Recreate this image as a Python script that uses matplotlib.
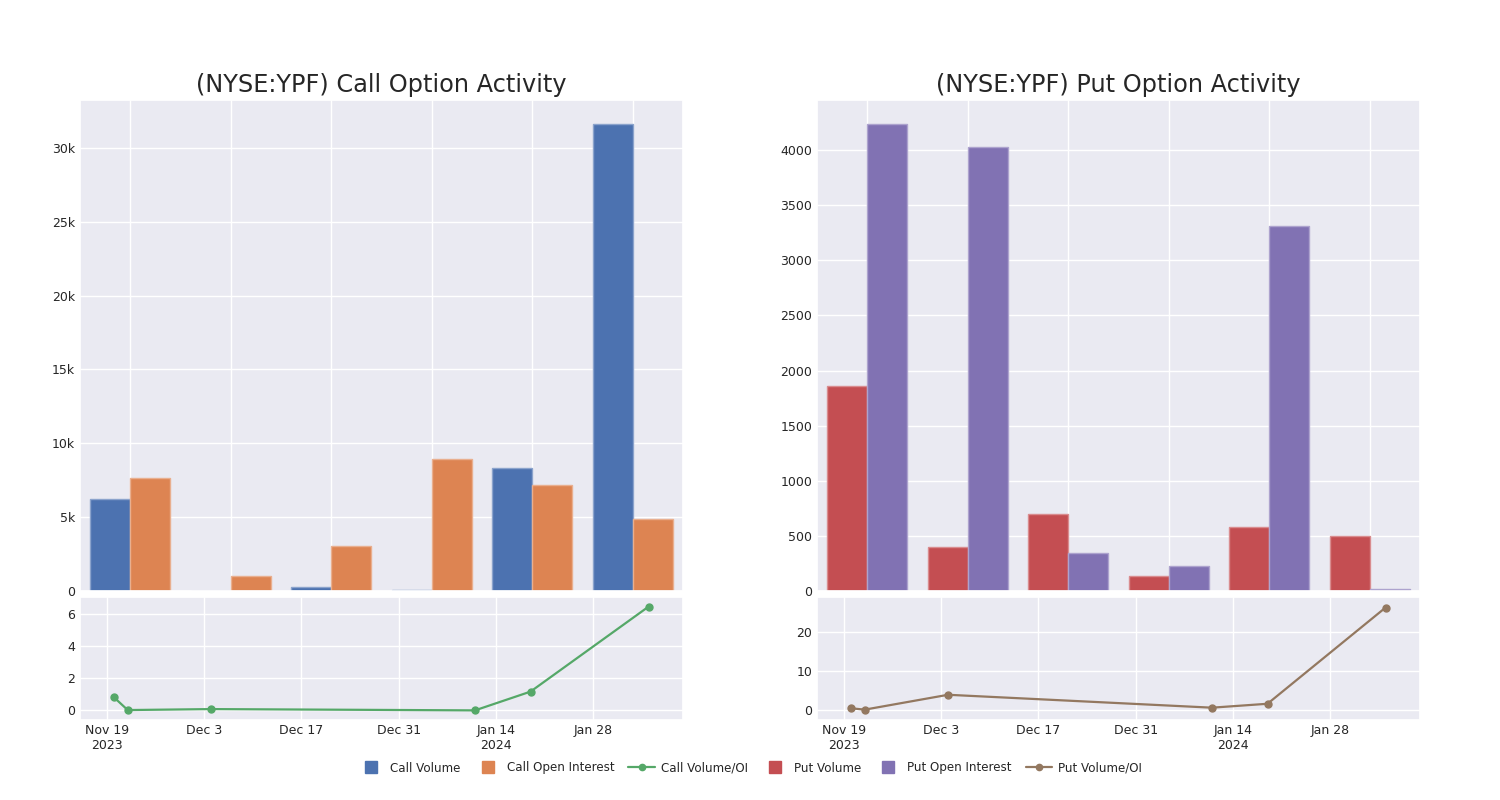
import matplotlib
matplotlib.use("Agg")
import matplotlib.pyplot as plt
from matplotlib.lines import Line2D
from matplotlib.ticker import FuncFormatter
import numpy as np
import pandas as pd
import seaborn as sns

# ---- data ----
categories = ["1", "2", "3", "4", "5", "6"]
call_volume = [6200, 30, 300, 80, 8350, 31650]
call_oi = [7650, 1000, 3050, 8950, 7150, 4900]
put_volume = [1860, 400, 700, 135, 580, 500]
put_oi = [4240, 4030, 345, 225, 3310, 15]

ratio_dates = ["2023-11-20", "2023-11-22", "2023-12-04", "2024-01-11", "2024-01-19", "2024-02-05"]
call_ratio = [0.8, 0.0, 0.06, -0.02, 1.15, 6.45]
put_ratio = [0.45, 0.1, 3.9, 0.6, 1.6, 26.2]

tick_dates = ["2023-11-19", "2023-12-03", "2023-12-17", "2023-12-31", "2024-01-14", "2024-01-28"]
tick_labels = ["Nov 19\n2023", "Dec 3", "Dec 17", "Dec 31", "Jan 14\n2024", "Jan 28"]

sns.set_theme(style="darkgrid")
plt.rcParams['font.family'] = ['DejaVu Sans']

pal = sns.color_palette("deep")
c_blue, c_orange, c_green, c_red, c_purple, c_brown = pal[0], pal[1], pal[2], pal[3], pal[4], pal[5]

fig = plt.figure(figsize=(15, 8), dpi=100)
W, H = 1500, 800

def ax_rect(x0, y0, x1, y1):
    return [x0 / W, 1 - y1 / H, (x1 - x0) / W, (y1 - y0) / H]

ax_ct = fig.add_axes(ax_rect(80, 100, 683, 591))
ax_cb = fig.add_axes(ax_rect(80, 597, 683, 720))
ax_pt = fig.add_axes(ax_rect(817, 100, 1420, 591))
ax_pb = fig.add_axes(ax_rect(817, 597, 1420, 720))

x = np.arange(len(categories))
bw = 0.4

def lighten(c, f=0.35):
    c = np.array(c)
    return tuple(c + (1 - c) * f)

def bars(ax, v1, v2, col1, col2, title, kfmt):
    ax.bar(x - bw / 2, v1, width=bw, color=col1, edgecolor=lighten(col1), linewidth=1)
    ax.bar(x + bw / 2, v2, width=bw, color=col2, edgecolor=lighten(col2), linewidth=1)
    ax.set_xlim(-0.5, 5.5)
    ax.set_xticks(x)
    ax.set_xticklabels([])
    ax.tick_params(axis='x', length=0)
    ax.tick_params(axis='y', labelsize=9, length=0)
    ax.set_title(title, fontsize=17.3, pad=6)
    if kfmt:
        ax.yaxis.set_major_formatter(FuncFormatter(lambda v, p: "0" if v == 0 else f"{int(v/1000)}k"))

bars(ax_ct, call_volume, call_oi, c_blue, c_orange, "(NYSE:YPF) Call Option Activity", True)
bars(ax_pt, put_volume, put_oi, c_red, c_purple, "(NYSE:YPF) Put Option Activity", False)
ax_ct.set_ylim(0, 33250)
ax_pt.set_ylim(0, 4455)
ax_pt.set_yticks(np.arange(0, 4001, 500))

d = pd.to_datetime(ratio_dates)
td = pd.to_datetime(tick_dates)

def ratio(ax, vals, col, ylim, yticks):
    ax.plot(d, vals, color=col, marker='o', markersize=5, linewidth=1.6)
    ax.set_xlim(pd.Timestamp("2023-11-15 03:00"), pd.Timestamp("2024-02-09 23:00"))
    ax.set_xticks(td)
    ax.set_xticklabels(tick_labels)
    ax.set_ylim(*ylim)
    ax.set_yticks(yticks)
    ax.tick_params(axis='both', labelsize=9, length=0)
    ax.tick_params(axis='x', pad=3)

ratio(ax_cb, call_ratio, c_green, (-0.62, 7.05), [0, 2, 4, 6])
ratio(ax_pb, put_ratio, c_brown, (-2.55, 28.9), [0, 10, 20])

handles = [
    Line2D([], [], linestyle='none', marker='s', markersize=9, color=c_blue, label="Call Volume"),
    Line2D([], [], linestyle='none', marker='s', markersize=9, color=c_orange, label="Call Open Interest"),
    Line2D([], [], color=c_green, marker='o', markersize=4.5, linewidth=1.6, label="Call Volume/OI"),
    Line2D([], [], linestyle='none', marker='s', markersize=9, color=c_red, label="Put Volume"),
    Line2D([], [], linestyle='none', marker='s', markersize=9, color=c_purple, label="Put Open Interest"),
    Line2D([], [], color=c_brown, marker='o', markersize=4.5, linewidth=1.6, label="Put Volume/OI"),
]
fig.legend(handles=handles, loc='center', bbox_to_anchor=(0.5, 1 - 768 / H), ncol=6,
           frameon=False, fontsize=8.6, handlelength=2.2, columnspacing=1.17, handletextpad=0.5)

fig.savefig("out.png", dpi=100)
